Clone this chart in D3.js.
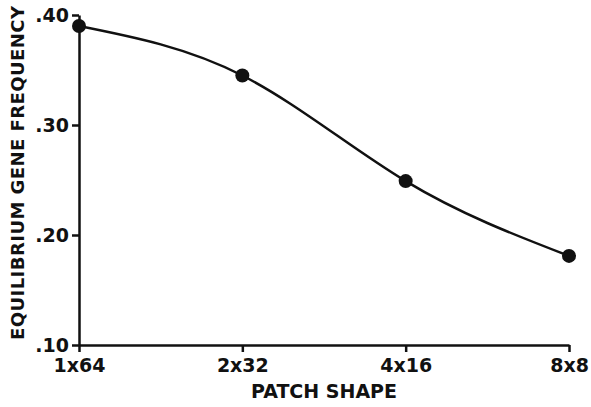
<!DOCTYPE html>
<html>
<head>
<meta charset="utf-8">
<script src="https://cdn.jsdelivr.net/npm/d3@7"></script>
<style>
  body { margin: 0; background: #fff; }
  text { font-family: "DejaVu Sans", sans-serif; font-weight: bold; fill: #111; }
</style>
</head>
<body>
<div class="chart"></div>
<script>
// patch shapes and equilibrium gene frequency
const shapes = ["1x64", "2x32", "4x16", "8x8"];
const freq = [0.390, 0.345, 0.249, 0.181];
const yTicks = [0.10, 0.20, 0.30, 0.40];
const yTickLabels = [".10", ".20", ".30", ".40"];

const width = 591,
    height = 407;
const margin = {top: 15, right: 22, bottom: 62, left: 79};

let svg = d3.select(".chart").append("svg")
    .attr("width", width)
    .attr("height", height);

const x = d3.scalePoint()
    .domain(shapes)
    .range([margin.left, width - margin.right]);

const y = d3.scaleLinear()
    .domain([0.10, 0.40])
    .range([height - margin.bottom, margin.top]);

// axes
const xAxis = svg.append("g")
    .attr("transform", `translate(0,${height - margin.bottom})`)
    .call(d3.axisBottom(x).tickSize(7).tickSizeOuter(0).tickPadding(7));
xAxis.select(".domain").attr("stroke", "#111").attr("stroke-width", 2.5);
xAxis.selectAll(".tick line").attr("stroke", "#111").attr("stroke-width", 2.5);
xAxis.selectAll(".tick text")
    .style("font-size", "19px")
    .attr("fill", "#111");

const yAxis = svg.append("g")
    .attr("transform", `translate(${margin.left},0)`)
    .call(d3.axisLeft(y).tickValues(yTicks)
        .tickFormat((d, i) => yTickLabels[i])
        .tickSize(7).tickSizeOuter(0).tickPadding(3));
yAxis.select(".domain").attr("stroke", "#111").attr("stroke-width", 2.5);
yAxis.selectAll(".tick line").attr("stroke", "#111").attr("stroke-width", 2.5);
yAxis.selectAll(".tick text")
    .style("font-size", "19px")
    .attr("fill", "#111");

// titles
svg.append("text")
    .attr("x", (margin.left + width - margin.right) / 2)
    .attr("y", 398)
    .attr("text-anchor", "middle")
    .style("font-size", "19px")
    .text("PATCH SHAPE");

svg.append("text")
    .attr("transform", `translate(24,${173}) rotate(-90)`)
    .attr("text-anchor", "middle")
    .style("font-size", "18px")
    .attr("textLength", 334)
    .attr("lengthAdjust", "spacing")
    .text("EQUILIBRIUM GENE FREQUENCY");

// curve
const pts = shapes.map((s, i) => ({shape: s, value: freq[i]}));

const line = d3.line()
    .x(d => x(d.shape))
    .y(d => y(d.value))
    .curve(d3.curveNatural);

svg.append("path")
    .datum(pts)
    .attr("d", line)
    .attr("fill", "none")
    .attr("stroke", "#111")
    .attr("stroke-width", 2.5);

svg.selectAll("circle")
    .data(pts)
    .join("circle")
    .attr("cx", d => x(d.shape))
    .attr("cy", d => y(d.value))
    .attr("r", 7)
    .style("fill", "#111");
</script>
</body>
</html>
